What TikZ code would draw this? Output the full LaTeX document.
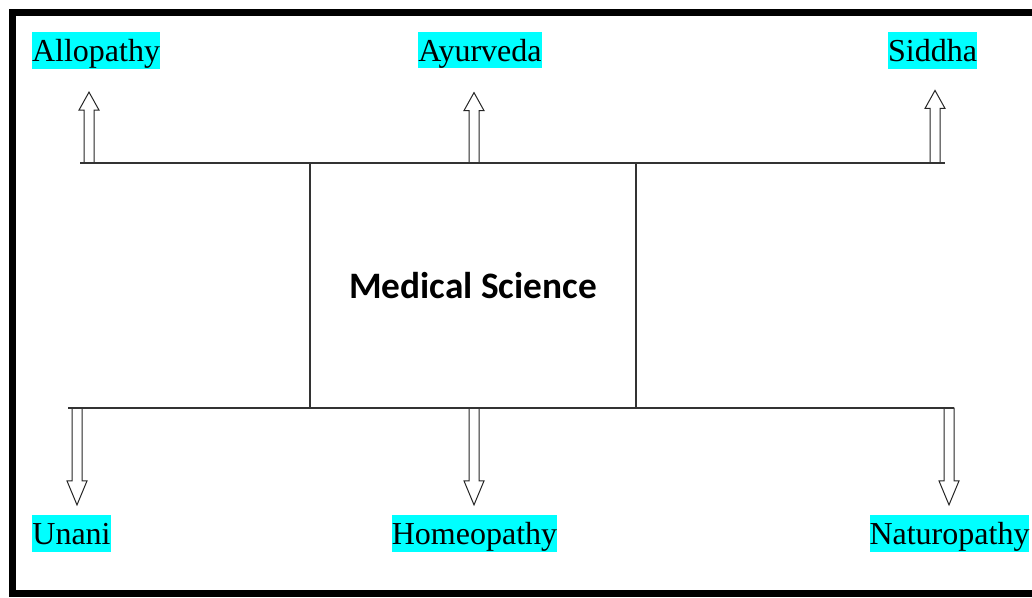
\documentclass[tikz,border=0pt]{standalone}
\usepackage{fontspec}
\setmainfont{Liberation Serif}
\newfontfamily\carlito{Carlito}
\usetikzlibrary{calc}
\definecolor{highlight}{RGB}{0,255,255}
\tikzstyle{system} = [rectangle, fill=highlight, inner sep=0pt, text height=22pt, text depth=5.5pt, font=\fontsize{24}{28}\selectfont]
\tikzstyle{core} = [rectangle, draw=black!80, line width=0.8pt, minimum width=244.5pt, minimum height=183.75pt, font=\carlito\bfseries\fontsize{28}{32}\selectfont]
\tikzstyle{branch} = [draw=black!80, line width=0.8pt]
\tikzstyle{hollow} = [draw=black!85, line width=0.75pt, fill=white]
\tikzset{blockarrow/.style 2 args={to path={let \p1=(\tikztostart), \p2=(\tikztotarget), \n1={sign(\y2-\y1)} in
  -- (\x1-3.75pt,\y1) -- (\x1-3.75pt,\y2-\n1*#1-\n1*#2) -- (\x1-7.5pt,\y2-\n1*#1-\n1*#2) -- (\x1,\y2-\n1*#1)
  -- (\x1+7.5pt,\y2-\n1*#1-\n1*#2) -- (\x1+3.75pt,\y2-\n1*#1-\n1*#2) -- (\x1+3.75pt,\y1) -- cycle}}}

\begin{document}
\begin{tikzpicture}[x=0.75pt, y=-0.75pt]
    \clip (0,0) rectangle (1032,597);
    \draw [line width=5.25pt] (12.5,12.5) rectangle (1050,593.5);

    \node (med) [core] at (473,285.5) {Medical Science};

    \node (allo) [system] at (96,50.5) {Allopathy};
    \node (ayur) [system] at (480,50) {Ayurveda};
    \node (siddha) [system] at (932.5,50.5) {Siddha};
    \node (unani) [system] at (71.5,533.5) {Unani};
    \node (homeo) [system] at (474.5,533.5) {Homeopathy};
    \node (natur) [system] at (949.5,533.5) {Naturopathy};

    \coordinate (tl) at (80,163);
    \coordinate (tr) at (945,163);
    \coordinate (bl) at (68,408);
    \coordinate (br) at (954,408);
    \coordinate (t1) at (89,163);
    \coordinate (t2) at (474,163);
    \coordinate (t3) at (935,163);
    \coordinate (b1) at (77,408);
    \coordinate (b2) at (474,408);
    \coordinate (b3) at (949,408);

    \draw [hollow] (t1) to [blockarrow={17.25pt}{13.5pt}] (allo.south);
    \draw [hollow] (t2) to [blockarrow={18pt}{13.5pt}] (ayur.south);
    \draw [hollow] (t3) to [blockarrow={16pt}{13.5pt}] (siddha.south);
    \draw [hollow] (b1) to [blockarrow={7.5pt}{18pt}] (unani.north);
    \draw [hollow] (b2) to [blockarrow={7.5pt}{18pt}] (homeo.north);
    \draw [hollow] (b3) to [blockarrow={7.5pt}{18pt}] (natur.north);

    \draw [branch] (tl) -- (tr);
    \draw [branch] (bl) -- (br);
  \end{tikzpicture}
\end{document}
